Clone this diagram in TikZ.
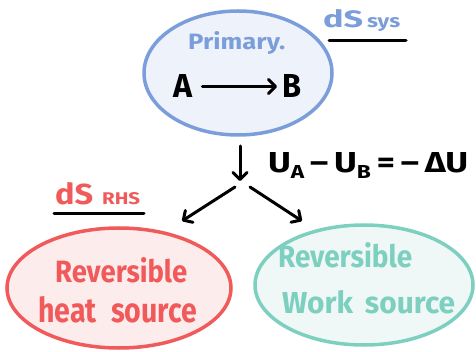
\documentclass[tikz,border=0pt]{standalone}
\usepackage{fontspec}
\setmainfont{Fira Sans}
\usetikzlibrary{arrows.meta}
\definecolor{bluel}{HTML}{7B9EDB}
\definecolor{bluef}{HTML}{EEF2FB}
\definecolor{redl}{HTML}{F05A5A}
\definecolor{redf}{HTML}{FDECEC}
\definecolor{greenl}{HTML}{7DCFC0}
\definecolor{greenf}{HTML}{EFF8F6}
\newcommand{\rz}[3]{\resizebox{#1pt}{#2pt}{#3}}
\tikzset{
  blob/.style={line width=3.5pt},
  arr/.style={line width=3pt,line cap=round,-{Straight Barb[length=7pt,width=14pt,line width=3pt,round]}},
  uline/.style={line width=3pt,line cap=round},
  lbl/.style={inner sep=0pt,anchor=base west,font=\bfseries\fontsize{20}{20}\selectfont}
}
\begin{document}
\begin{tikzpicture}[x=1pt,y=-1pt]
\useasboundingbox (0,0) rectangle (476,352);
% ellipses
\draw[blob,draw=bluel,fill=bluef] (238,73) ellipse [x radius=94,y radius=62];
\draw[blob,draw=redl,fill=redf] (119,288) ellipse [x radius=112,y radius=60];
\draw[blob,draw=greenl,fill=greenf] (364,285) ellipse [x radius=109,y radius=60];
% primary
\node[lbl,text=bluel] (prim) at (188,50) {\rz{97}{18}{Primary.}};
\node[lbl] (A) at (173,98) {\rz{19}{23}{A}};
\node[lbl] (B) at (282,98) {\rz{19}{23}{B}};
\draw[arr,shorten <=10pt,shorten >=5pt] (A.east) -- (B.west);
% dS sys
\node[lbl,text=bluel] (dss) at (323,28) {\rz{40}{18}{dS}};
\node[lbl,text=bluel] (sys) at (367,28) {\rz{33}{10}{sys}};
\coordinate (u1a) at (329,41);
\coordinate (u1b) at (406,41);
\draw[uline] (u1a) -- (u1b);
% down arrow
\coordinate (d0) at (240,146);
\coordinate (d1) at (240,181);
\draw[arr] (d0) -- (d1);
\node[lbl] (eq) at (268,173) {\rz{200}{20}{U\raisebox{-4pt}{\fontsize{13}{13}\selectfont A}\,–\,U\raisebox{-4pt}{\fontsize{13}{13}\selectfont B}\,=\,–\,ΔU}};
% split arrows
\coordinate (s1) at (235,187);
\coordinate (s2) at (250,187);
\coordinate (t1) at (182,221);
\coordinate (t2) at (302,221);
\draw[arr] (s1) -- (t1);
\draw[arr] (s2) -- (t2);
% dS RHS
\node[lbl,text=redl] (dsr) at (55,205) {\rz{38}{22}{dS}};
\node[lbl,text=redl] (rhs) at (102,205) {\rz{38}{12}{RHS}};
\coordinate (u2a) at (54,214);
\coordinate (u2b) at (144,214);
\draw[uline] (u2a) -- (u2b);
% lower texts
\node[lbl,text=redl] (r1) at (55,283) {\rz{132}{25}{Reversible}};
\node[lbl,text=redl] (r2) at (38,323) {\rz{159}{26}{heat\hspace{0.5em}source}};
\node[lbl,text=greenl] (g1) at (278,268) {\rz{134}{25}{Reversible}};
\node[lbl,text=greenl] (g2) at (282,313) {\rz{173}{23}{Work\hspace{0.4em}source}};
\end{tikzpicture}
\end{document}
